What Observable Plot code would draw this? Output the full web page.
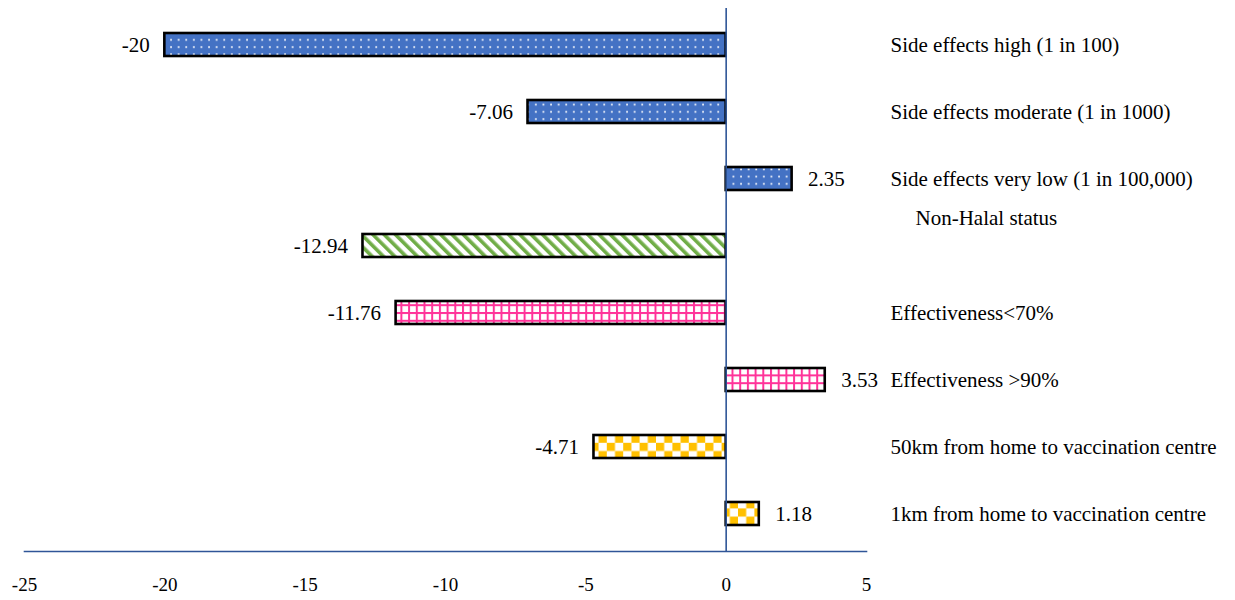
<!DOCTYPE html>
<html>
<head>
<meta charset="utf-8">
<script src="https://cdn.jsdelivr.net/npm/d3@7"></script>
<script src="https://cdn.jsdelivr.net/npm/@observablehq/plot@0.6"></script>
<style>
  html, body { margin: 0; padding: 0; background: #fff; }
  #chart svg { overflow: visible; }
</style>
</head>
<body>
<div id="chart"></div>
<script>
// Vaccine attribute levels and their estimated effects
const levels = [
  "Side effects high (1 in 100)",
  "Side effects moderate (1 in 1000)",
  "Side effects very low (1 in 100,000)",
  "Non-Halal status",
  "Effectiveness<70%",
  "Effectiveness >90%",
  "50km from home to vaccination centre",
  "1km from home to vaccination centre"
];
const effects = [-20, -7.06, 2.35, -12.94, -11.76, 3.53, -4.71, 1.18];
const attributes = ["side", "side", "side", "halal", "effect", "effect", "distance", "distance"];
const xTicks = [-25, -20, -15, -10, -5, 0, 5];

// One fill pattern per attribute
const patternOf = {
  side: "url(#dots)",
  halal: "url(#stripes)",
  effect: "url(#grid)",
  distance: "url(#checks)"
};

const rows = levels.map((level, i) => ({
  level,
  value: effects[i],
  fill: patternOf[attributes[i]]
}));

const axisBlue = "#2F5597";

// Pattern definitions rendered inside the plot's SVG
function patterns() {
  const defs = d3.create("svg:defs");

  const dots = defs.append("pattern").attr("id", "dots")
    .attr("patternUnits", "userSpaceOnUse").attr("width", 7.6).attr("height", 7.2);
  dots.append("rect").attr("width", 7.6).attr("height", 7.2).attr("fill", "#4472C4");
  dots.append("rect").attr("x", 3).attr("y", 3).attr("width", 1.7).attr("height", 1.7).attr("fill", "#fff");

  const stripes = defs.append("pattern").attr("id", "stripes")
    .attr("patternUnits", "userSpaceOnUse").attr("width", 8).attr("height", 8)
    .attr("patternTransform", "rotate(-45)");
  stripes.append("rect").attr("width", 8).attr("height", 8).attr("fill", "#fff");
  stripes.append("rect").attr("width", 3.6).attr("height", 8).attr("fill", "#70AD47");

  const grid = defs.append("pattern").attr("id", "grid")
    .attr("patternUnits", "userSpaceOnUse").attr("width", 7.7).attr("height", 7.8);
  grid.append("rect").attr("width", 7.7).attr("height", 7.8).attr("fill", "#fff");
  grid.append("rect").attr("x", 0).attr("width", 2).attr("height", 7.8).attr("fill", "#FF3399");
  grid.append("rect").attr("y", 0).attr("width", 7.7).attr("height", 2).attr("fill", "#FF3399");

  const checks = defs.append("pattern").attr("id", "checks")
    .attr("patternUnits", "userSpaceOnUse").attr("width", 16.4).attr("height", 16.4);
  checks.append("rect").attr("width", 16.4).attr("height", 16.4).attr("fill", "#fff");
  checks.append("rect").attr("width", 8.2).attr("height", 8.2).attr("fill", "#FFC000");
  checks.append("rect").attr("x", 8.2).attr("y", 8.2).attr("width", 8.2).attr("height", 8.2).attr("fill", "#FFC000");

  return defs.node();
}

const fmt = (v) => String(v);
const negatives = rows.filter((d) => d.value < 0);
const positives = rows.filter((d) => d.value >= 0);

const chart = Plot.plot({
  width: 1235,
  height: 600,
  marginTop: 8,
  marginBottom: 49,
  marginLeft: 24,
  marginRight: 369,
  style: { fontFamily: "'Liberation Serif', 'Times New Roman', serif", fontSize: "21px", color: "#000", background: "#fff" },
  x: { domain: [-25, 5], axis: null, label: null },
  y: { domain: levels, paddingInner: 0.65, paddingOuter: 0.325, axis: null },
  color: { type: "identity" },
  marks: [
    patterns,
    Plot.axisX({ ticks: xTicks, tickSize: 0, tickPadding: 26, tickFormat: fmt, fontSize: 19, label: null }),
    Plot.frame({ anchor: "bottom", stroke: axisBlue, strokeWidth: 1.6 }),
    Plot.barX(rows, { x: "value", y: "level", fill: "fill", stroke: "#000", strokeWidth: 2.6 }),
    Plot.ruleX([0], { stroke: axisBlue, strokeWidth: 1.6 }),
    // value labels beside each bar end
    Plot.text(negatives, { x: "value", y: "level", text: (d) => fmt(d.value), textAnchor: "end", dx: -15, fill: "#000" }),
    Plot.text(positives, { x: "value", y: "level", text: (d) => fmt(d.value), textAnchor: "start", dx: 16, fill: "#000" }),
    // level names to the right of the plotting area
    Plot.text(rows.filter((d) => d.level !== "Non-Halal status"), {
      y: "level", text: "level", frameAnchor: "right", textAnchor: "start", dx: 24, fill: "#000"
    }),
    Plot.text(rows.filter((d) => d.level === "Non-Halal status"), {
      y: "level", text: "level", frameAnchor: "right", textAnchor: "start", dx: 49, dy: -28, fill: "#000"
    })
  ]
});

document.getElementById("chart").appendChild(chart);
</script>
</body>
</html>
